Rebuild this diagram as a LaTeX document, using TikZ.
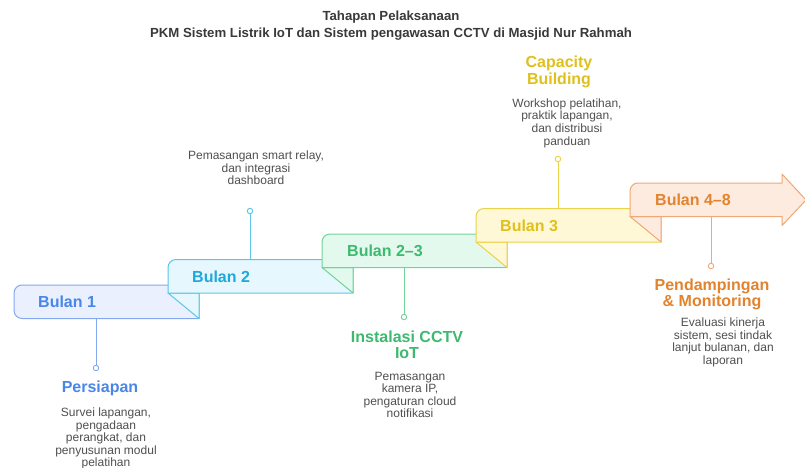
\documentclass[tikz,border=0pt]{standalone}
\usepackage{fontspec}
\setmainfont{Liberation Sans}
\definecolor{c1t}{HTML}{4A86E8}\definecolor{c1f}{HTML}{EAF0FD}\definecolor{c1s}{HTML}{84A8F0}
\definecolor{c2t}{HTML}{1EA8DB}\definecolor{c2f}{HTML}{E6F7FD}\definecolor{c2s}{HTML}{5EC5EB}
\definecolor{c3t}{HTML}{3DBA6F}\definecolor{c3f}{HTML}{E4F9ED}\definecolor{c3s}{HTML}{72D39B}
\definecolor{c4t}{HTML}{DFC01C}\definecolor{c4f}{HTML}{FFF8D7}\definecolor{c4s}{HTML}{EBD24B}
\definecolor{c5t}{HTML}{E2832E}\definecolor{c5f}{HTML}{FDEBDF}\definecolor{c5s}{HTML}{F0A874}
\definecolor{dgray}{HTML}{505050}
\definecolor{tgray}{HTML}{3A3A3A}
\begin{document}
\begin{tikzpicture}[x=1pt,y=-1pt,
  ribbon/.style={line width=1pt, line join=round},
  lbl/.style={font=\fontsize{16}{17}\selectfont\bfseries, anchor=west, inner sep=0pt},
  ttl/.style={font=\fontsize{16}{16.5}\selectfont\bfseries, align=center, inner sep=0pt},
  dsc/.style={font=\fontsize{12}{12.6}\selectfont, text=dgray, align=center, inner sep=0pt},
  dot/.style={circle, draw, fill=white, inner sep=0pt, minimum size=5.5pt, line width=0.9pt},
  conn/.style={line width=1pt}]
\useasboundingbox (0,0) rectangle (805,468);
\fill[white] (0,0) rectangle (805,468);

% title
\node[font=\fontsize{13.2}{17}\selectfont\bfseries, text=tgray, align=center, inner sep=0pt] (title) at (391,25.5)
  {Tahapan Pelaksanaan\\PKM Sistem Listrik IoT dan Sistem pengawasan CCTV di Masjid Nur Rahmah};

% step 1
\draw[ribbon, draw=c1s, fill=c1f] (199,285) -- (22,285) arc[start angle=90,end angle=180,radius=8pt]
  -- (14,310.5) arc[start angle=180,end angle=270,radius=8pt] -- (199,318.5) -- cycle;
% step 2
\draw[ribbon, draw=c2s, fill=c2f] (168,293) -- (199,318.5) -- (199,293) -- cycle;
\draw[ribbon, draw=c2s, fill=c2f] (353,259.5) -- (176,259.5) arc[start angle=90,end angle=180,radius=8pt]
  -- (168,293) -- (353,293) -- cycle;
% step 3
\draw[ribbon, draw=c3s, fill=c3f] (322,267.5) -- (353,293) -- (353,267.5) -- cycle;
\draw[ribbon, draw=c3s, fill=c3f] (507,234) -- (330,234) arc[start angle=90,end angle=180,radius=8pt]
  -- (322,267.5) -- (507,267.5) -- cycle;
% step 4
\draw[ribbon, draw=c4s, fill=c4f] (476,242) -- (507,267.5) -- (507,242) -- cycle;
\draw[ribbon, draw=c4s, fill=c4f] (661,208.5) -- (484,208.5) arc[start angle=90,end angle=180,radius=8pt]
  -- (476,242) -- (661,242) -- cycle;
% step 5
\draw[ribbon, draw=c5s, fill=c5f] (630,216.5) -- (661,242) -- (661,216.5) -- cycle;
\draw[ribbon, draw=c5s, fill=c5f] (782,183) -- (638,183) arc[start angle=90,end angle=180,radius=8pt]
  -- (630,216.5) -- (782,216.5) -- (782,225.5) -- (806,200) -- (782,174) -- cycle;

% labels
\node[lbl, text=c1t] (b1) at (38,302) {Bulan 1};
\node[lbl, text=c2t] (b2) at (192,276.5) {Bulan 2};
\node[lbl, text=c3t] (b3) at (347,251) {Bulan 2–3};
\node[lbl, text=c4t] (b4) at (500,225.5) {Bulan 3};
\node[lbl, text=c5t] (b5) at (655,200) {Bulan 4–8};

% connectors
\coordinate (a1) at (96,318.5);   \node[dot, draw=c1s] (d1) at (96,368) {};
\coordinate (a2) at (250,259.5);  \node[dot, draw=c2s] (d2) at (250,211) {};
\coordinate (a3) at (404,267.5);  \node[dot, draw=c3s] (d3) at (404,317) {};
\coordinate (a4) at (558,208.5);  \node[dot, draw=c4s] (d4) at (558,159) {};
\coordinate (a5) at (711,216.5);  \node[dot, draw=c5s] (d5) at (711,266) {};
\draw[conn, c1s] (a1) -- (d1);
\draw[conn, c2s] (a2) -- (d2);
\draw[conn, c3s] (a3) -- (d3);
\draw[conn, c4s] (a4) -- (d4);
\draw[conn, c5s] (a5) -- (d5);

% titles
\node[ttl, text=c1t] (t1) at (100,388) {Persiapan};
\node[ttl, text=c3t] (t3) at (407,345) {Instalasi CCTV\\IoT};
\node[ttl, text=c4t] (t4) at (559,72) {Capacity\\Building};
\node[ttl, text=c5t] (t5) at (712,294.5) {Pendampingan\\\& Monitoring};

% descriptions
\node[dsc] (e1) at (106,438.5) {Survei lapangan,\\pengadaan\\perangkat, dan\\penyusunan modul\\pelatihan};
\node[dsc] (e2) at (256,168) {Pemasangan smart relay,\\dan integrasi\\dashboard};
\node[dsc] (e3) at (410,395) {Pemasangan\\kamera IP,\\pengaturan cloud\\notifikasi};
\node[dsc] (e4) at (567,123) {Workshop pelatihan,\\praktik lapangan,\\dan distribusi\\panduan};
\node[dsc] (e5) at (723,342.5) {Evaluasi kinerja\\sistem, sesi tindak\\lanjut bulanan, dan\\laporan};
\end{tikzpicture}
\end{document}
